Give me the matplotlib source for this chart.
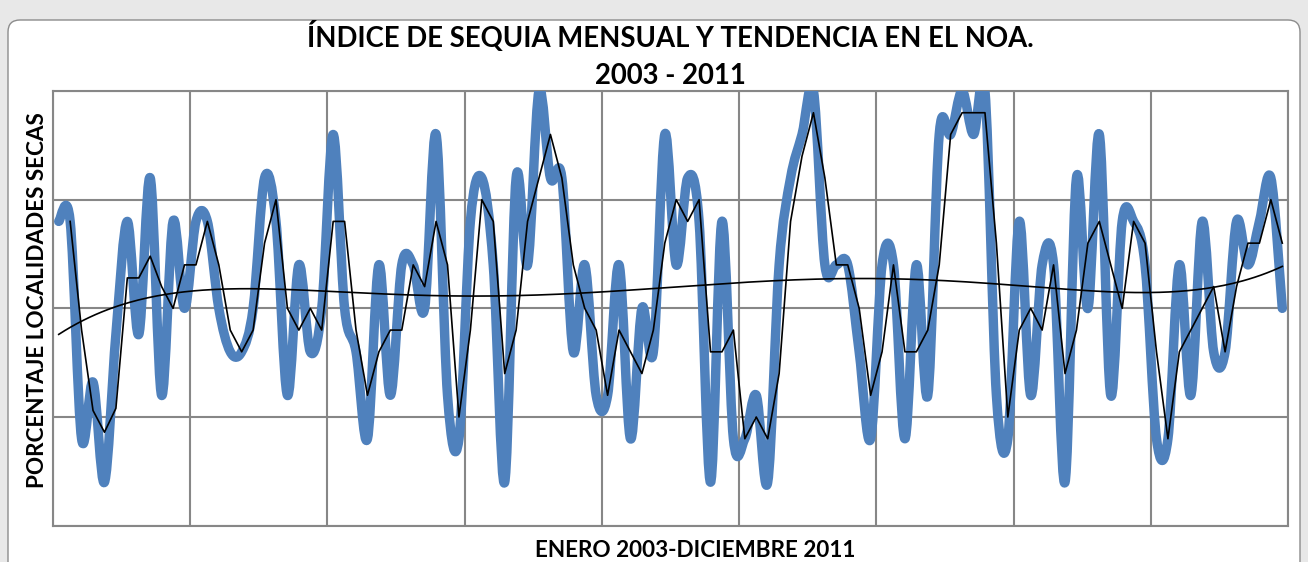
import numpy as np
import pandas as pd
import matplotlib
matplotlib.use("Agg")
import matplotlib.pyplot as plt
from matplotlib.path import Path
from matplotlib.patches import PathPatch, FancyBboxPatch

# indice mensual de sequia, enero 2003 - diciembre 2011 (% localidades secas)
meses = np.arange(1, 109)
sequia = [70, 70, 20, 33, 10, 44, 70, 44, 80, 30, 70, 50,
          70, 70, 50, 40, 40, 50, 80, 70, 30, 60, 40, 50,
          90, 50, 40, 20, 60, 30, 60, 60, 50, 90, 30, 20,
          70, 80, 60, 10, 80, 60, 100, 80, 80, 40, 60, 30,
          30, 60, 20, 50, 40, 90, 60, 80, 70, 10, 70, 20,
          20, 30, 10, 60, 80, 90, 100, 60, 60, 60, 40, 20,
          60, 60, 20, 60, 30, 90, 90, 100, 90, 100, 30, 20,
          70, 30, 60, 60, 10, 80, 50, 90, 30, 70, 70, 60,
          20, 20, 60, 30, 70, 40, 40, 70, 60, 70, 80, 50]

titulo1 = "ÍNDICE DE SEQUIA MENSUAL Y TENDENCIA EN EL NOA."
titulo2 = "2003 - 2011"
etiq_x = "ENERO 2003-DICIEMBRE 2011"
etiq_y = "PORCENTAJE LOCALIDADES SECAS"

azul = "#4f81bd"
gris = "#878787"

plt.rcParams["font.family"] = ["Lato", "DejaVu Sans"]

# trendlines like excel: moving average (period 2) and polynomial order 5
serie = pd.Series(sequia, index=meses, dtype=float)
media_movil = serie.rolling(2).mean()
poli = np.polynomial.Polynomial.fit(meses, sequia, 5)
xs = np.linspace(meses[0], meses[-1], 400)

fig = plt.figure(figsize=(13.08, 5.62), dpi=100)
fig.patch.set_facecolor("#e8e8e8")
marco = FancyBboxPatch((0.08, -0.4), 12.92, 5.82, boxstyle="round,pad=0,rounding_size=0.12",
                       transform=fig.dpi_scale_trans, facecolor="white", edgecolor="#8c8c8c",
                       lw=1.0, zorder=-5)
fig.add_artist(marco)

ax = fig.add_axes([53 / 1308, 1 - 525.7 / 562, (1288 - 53) / 1308, (525.7 - 91) / 562])
ax.set_zorder(2)
ax.set_xlim(0, len(meses))
ax.set_ylim(0, 100)

# smoothed line (bezier through the points, like excel "smoothed line")
px = meses - 0.5
py = np.array(sequia, dtype=float)
n = len(px)
verts = [(px[0], py[0])]
codes = [Path.MOVETO]
for k in range(n - 1):
    a = max(k - 1, 0)
    b = min(k + 2, n - 1)
    c1 = (px[k] + (px[k + 1] - px[a]) / 6, py[k] + (py[k + 1] - py[a]) / 6)
    c2 = (px[k + 1] - (px[b] - px[k]) / 6, py[k + 1] - (py[b] - py[k]) / 6)
    verts += [c1, c2, (px[k + 1], py[k + 1])]
    codes += [Path.CURVE4, Path.CURVE4, Path.CURVE4]
ax.add_patch(PathPatch(Path(verts, codes), fill=False, edgecolor=azul, lw=6.8,
                       capstyle="round", joinstyle="round", zorder=3))

ax.plot(meses - 0.5, media_movil.values, color="black", lw=1.2, zorder=4)
ax.plot(xs - 0.5, poli(xs), color="black", lw=1.2, zorder=4)

ax.set_xticks(np.arange(0, len(meses) + 1, 12))
ax.set_yticks([0, 25, 50, 75, 100])
ax.grid(True, color=gris, lw=1.5)
ax.set_axisbelow(True)
ax.tick_params(length=0, labelbottom=False, labelleft=False)
for s in ax.spines.values():
    s.set_color(gris)
    s.set_linewidth(1.5)

fig.text(670 / 1308, 1 - 47 / 562, titulo1, ha="center", va="baseline", fontsize=19.8, fontweight="bold")
fig.text(670 / 1308, 1 - 84 / 562, titulo2, ha="center", va="baseline", fontsize=19.8, fontweight="bold")
fig.text(695 / 1308, 1 - 557 / 562, etiq_x, ha="center", va="baseline", fontsize=16.2, fontweight="bold")
fig.text(38 / 1308, 1 - 300 / 562, etiq_y, ha="center", va="center", rotation=90,
         fontsize=16.2, fontweight="bold")

fig.savefig("out.png", dpi=100, facecolor=fig.get_facecolor())
